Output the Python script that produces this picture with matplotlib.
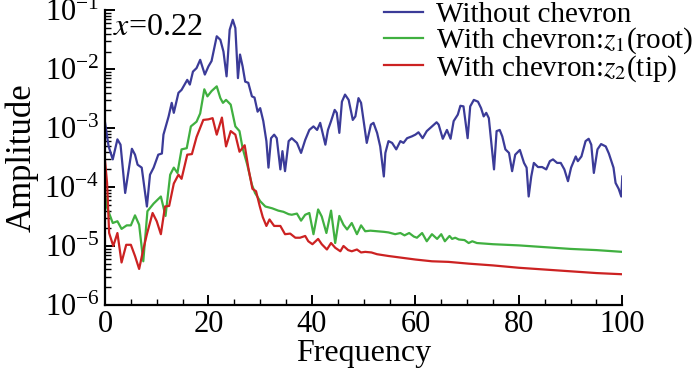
import numpy as np
import matplotlib
matplotlib.use("Agg")
import matplotlib.pyplot as plt
from matplotlib.ticker import LogLocator, MultipleLocator, NullFormatter

plt.rcParams["font.family"] = ["Liberation Serif", "DejaVu Serif"]
plt.rcParams["mathtext.fontset"] = "stix"

# frequencies and log10(amplitude)
freq_none = [0, 0.7, 1.5, 2.4, 3.0, 3.9, 5.2, 5.8, 6.3, 7.1, 8.1, 8.7, 9.4, 10.3,
             11.0, 11.3, 12.3, 12.9, 13.3, 14.2, 14.8, 15.9, 16.4, 17.0, 17.7,
             18.4, 19.3, 20.0, 20.6, 21.6, 22.3, 22.9, 23.5, 24.1, 24.7, 25.2,
             25.7, 26.1, 26.6, 27.1, 27.7, 28.4, 28.9, 29.5, 30.0, 30.6, 31.2,
             31.6, 32.1, 32.7, 33.2, 33.9, 34.3, 34.8, 35.5, 36.1, 37.1, 37.9,
             38.7, 39.5, 40.3, 41.0, 41.6, 42.6, 43.1, 43.7, 44.4, 44.8, 45.3,
             45.8, 46.4, 47.1, 47.9, 48.4, 49.0, 49.5, 50.6, 51.4, 51.9, 52.6,
             53.2, 53.9, 54.2, 54.8, 55.5, 56.3, 57.1, 57.7, 58.4, 59.3, 60.0,
             60.6, 61.4, 62.2, 63.2, 64.1, 64.5, 65.3, 66.1, 66.8, 67.4, 68.2,
             68.7, 69.3, 70.1, 70.6, 71.3, 72.1, 72.7, 73.2, 73.7, 74.2, 75.2,
             75.7, 76.3, 76.8, 77.4, 78.1, 78.7, 79.3, 80.2, 81.0, 81.5, 81.9,
             82.4, 82.9, 83.7, 84.5, 85.3, 86.0, 86.6, 87.4, 88.1, 88.8, 89.5,
             90.1, 91.0, 91.4, 92.1, 92.9, 93.5, 94.0, 94.5, 95.2, 95.9, 96.8,
             97.4, 98.3, 98.7, 99.3, 99.8, 100.0]
amp_none = [-2.90, -3.31, -3.53, -3.19, -3.28, -4.10, -3.35, -3.45, -3.62, -3.67,
            -4.33, -3.79, -3.67, -3.45, -3.43, -3.11, -2.80, -2.57, -2.74, -2.40,
            -2.35, -2.18, -2.26, -2.04, -1.98, -1.84, -2.09, -1.95, -1.86, -1.44,
            -1.50, -1.70, -2.12, -1.33, -1.16, -1.30, -2.15, -1.75, -1.95, -2.21,
            -2.23, -2.46, -2.48, -2.72, -2.66, -2.88, -3.22, -3.67, -3.17, -3.11,
            -3.17, -3.70, -3.39, -3.73, -3.22, -3.17, -3.25, -3.42, -3.20, -3.03,
            -2.97, -3.03, -2.91, -3.28, -3.03, -2.88, -2.69, -2.74, -3.08, -2.55,
            -2.43, -2.52, -2.86, -2.80, -2.49, -2.57, -3.25, -2.94, -2.91, -3.08,
            -3.31, -3.82, -3.42, -3.22, -3.25, -3.36, -3.22, -3.25, -3.17, -3.14,
            -3.11, -3.07, -3.17, -3.05, -2.97, -2.90, -2.94, -3.18, -3.03, -3.18,
            -2.88, -2.77, -2.62, -2.63, -3.17, -2.63, -2.52, -2.55, -2.66, -2.80,
            -2.74, -2.83, -3.70, -3.05, -3.03, -3.14, -3.36, -3.42, -3.73, -3.45,
            -3.37, -3.59, -3.67, -4.16, -3.82, -3.59, -3.66, -3.66, -3.70, -3.56,
            -3.53, -3.59, -3.59, -3.70, -3.90, -3.67, -3.48, -3.56, -3.48, -3.22,
            -3.18, -3.28, -3.76, -3.36, -3.27, -3.31, -3.43, -3.67, -3.93, -4.03,
            -4.16, -3.82]

freq_root = [0, 0.4, 1.5, 2.4, 3.2, 4.2, 5.0, 5.8, 6.6, 7.4, 8.2, 9.4, 10.8, 11.7,
             12.6, 13.3, 14.0, 14.8, 15.8, 16.6, 17.7, 18.4, 19.2, 19.8, 20.6,
             21.6, 22.3, 22.8, 23.4, 24.3, 25.2, 26.0, 26.6, 27.5, 28.4, 29.0,
             30.0, 31.0, 32.3, 33.5, 34.5, 35.5, 36.1, 37.1, 37.9, 38.7, 39.5,
             40.3, 41.2, 41.9, 42.8, 43.7, 44.5, 45.3, 46.1, 46.8, 47.7, 48.7,
             49.5, 50.3, 51.3, 52.6, 53.9, 54.8, 56.1, 57.1, 57.9, 58.8, 59.7,
             60.3, 61.3, 62.2, 63.2, 64.2, 65.0, 65.7, 66.6, 67.1, 67.7, 68.4,
             69.5, 70.3, 71.0, 71.9, 75.0, 80.0, 85.0, 90.0, 95.0, 100.0]
amp_root = [-4.10, -4.35, -4.61, -4.58, -4.71, -4.65, -4.65, -4.48, -4.64, -5.26,
            -4.41, -4.28, -4.16, -4.49, -3.79, -3.67, -3.76, -3.36, -3.34, -2.97,
            -2.89, -2.75, -2.34, -2.46, -2.37, -2.29, -2.49, -2.57, -2.52, -2.60,
            -2.97, -3.05, -3.34, -3.62, -3.96, -4.10, -4.24, -4.33, -4.36, -4.40,
            -4.42, -4.46, -4.47, -4.45, -4.57, -4.47, -4.44, -4.80, -4.38, -4.50,
            -4.78, -4.40, -4.95, -4.49, -4.64, -4.72, -4.61, -4.80, -4.65, -4.75,
            -4.74, -4.75, -4.76, -4.77, -4.80, -4.78, -4.82, -4.78, -4.84, -4.86,
            -4.78, -4.92, -4.80, -4.88, -4.80, -4.92, -4.83, -4.88, -4.86, -4.89,
            -4.90, -4.95, -4.92, -4.95, -4.97, -4.99, -5.02, -5.05, -5.07, -5.10]

freq_tip = [0, 0.4, 0.8, 1.6, 2.4, 3.2, 4.1, 5.0, 5.8, 6.6, 7.4, 8.1, 9.2, 10.0,
            10.8, 11.6, 12.4, 13.3, 14.2, 14.8, 15.9, 16.8, 17.7, 19.0, 20.0,
            20.8, 21.6, 22.6, 23.4, 24.3, 25.2, 26.0, 27.0, 27.7, 28.5, 29.2,
            29.9, 30.5, 31.2, 31.8, 32.7, 33.9, 34.8, 35.8, 36.8, 37.7, 38.7,
            39.3, 40.1, 41.2, 41.9, 42.9, 43.7, 44.5, 45.5, 46.1, 47.0, 47.7,
            48.7, 49.5, 50.3, 51.5, 52.6, 54.8, 57.4, 60.0, 63.2, 66.4, 70.3,
            75.0, 80.0, 85.0, 90.0, 95.0, 100.0]
amp_tip = [-3.55, -3.93, -4.78, -5.00, -4.78, -5.28, -4.98, -4.98, -5.17, -5.39,
           -5.06, -4.80, -4.44, -4.58, -4.80, -4.33, -4.32, -3.94, -3.79, -3.86,
           -3.45, -3.44, -3.15, -2.86, -2.85, -2.83, -3.11, -2.82, -3.31, -3.05,
           -3.11, -3.40, -3.29, -3.67, -4.03, -4.07, -4.32, -4.51, -4.66, -4.55,
           -4.66, -4.66, -4.80, -4.79, -4.86, -4.86, -4.83, -4.92, -4.97, -4.88,
           -4.97, -5.06, -4.95, -5.03, -5.09, -5.00, -5.07, -5.09, -5.06, -5.11,
           -5.10, -5.11, -5.14, -5.17, -5.20, -5.23, -5.26, -5.27, -5.30, -5.33,
           -5.37, -5.40, -5.43, -5.46, -5.48]

labels = ["Without chevron", r"With chevron:$z_1$(root)", r"With chevron:$z_2$(tip)"]
colors = ["#3b3b98", "#40b040", "#cc2222"]

fig = plt.figure(figsize=(7, 3.7), dpi=100)
ax = fig.add_axes([0.15, 0.176, 0.739, 0.796])

series = [(freq_none, amp_none), (freq_root, amp_root), (freq_tip, amp_tip)]
for (f, a), lab, c in zip(series, labels, colors):
    ax.plot(f, 10.0 ** np.array(a), color=c, lw=1.6, label=lab)

ax.set_yscale("log")
ax.set_xlim(0, 100)
ax.set_ylim(1e-6, 1e-1)
ax.xaxis.set_major_locator(MultipleLocator(20))
ax.xaxis.set_minor_locator(MultipleLocator(5))
ax.yaxis.set_major_locator(LogLocator(base=10, numticks=10))
ax.yaxis.set_minor_locator(LogLocator(base=10, subs=np.arange(2, 10), numticks=20))
ax.yaxis.set_minor_formatter(NullFormatter())

for s in ["top", "right"]:
    ax.spines[s].set_visible(False)
for s in ["left", "bottom"]:
    ax.spines[s].set_linewidth(1.6)
ax.tick_params(which="major", direction="in", length=7, width=1.4, labelsize=22, pad=4)
ax.tick_params(which="minor", direction="in", length=4, width=1.0)

ax.set_xlabel("Frequency", fontsize=23, labelpad=0)
ax.set_ylabel("Amplitude", fontsize=25, labelpad=4)

ax.text(0.015, 0.99, r"$x$=0.22", transform=ax.transAxes, fontsize=23,
        ha="left", va="top")

ax.legend(loc="upper left", bbox_to_anchor=(384 / 700, 1.0 - 2 / 370),
          bbox_transform=fig.transFigure, frameon=False,
          fontsize=21, handlelength=1.35, handletextpad=0.45, labelspacing=-0.1,
          borderaxespad=0, borderpad=0)

fig.savefig("out.png", dpi=100)
